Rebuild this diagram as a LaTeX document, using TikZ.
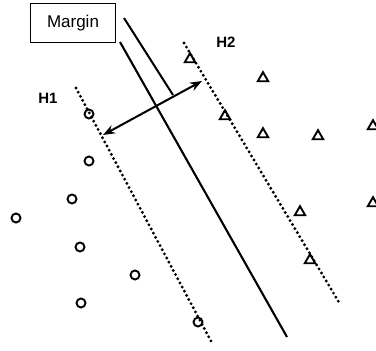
\documentclass[tikz,border=0pt]{standalone}
\usepackage{fontspec}
\setmainfont{Liberation Sans}
\usetikzlibrary{arrows.meta,shapes.geometric}
\tikzset{
  marginbox/.style={draw=black,line width=1.6pt,minimum width=85pt,
                    minimum height=39pt,inner sep=0pt,
                    font=\fontsize{17}{20}\selectfont},
  hlabel/.style={inner sep=0pt,font=\fontsize{15}{18}\selectfont\bfseries},
  classa/.style={circle,draw=black,line width=1.9pt,minimum size=9pt,
                 inner sep=0pt},
  classb/.style={regular polygon,regular polygon sides=3,draw=black,
                 line width=1.9pt,minimum size=12pt,inner sep=0pt,
                 yshift=-1.2pt},
  hyper/.style={line width=3.2pt,line cap=round,
                dash pattern=on 0pt off 4.7pt},
  sepline/.style={line width=2.1pt},
  pointer/.style={line width=2pt},
  margarr/.style={{Stealth[length=12pt,width=9pt]}-{Stealth[length=12pt,width=9pt]},
                  line width=2pt}
}
\begin{document}
\begin{tikzpicture}[x=1pt,y=-1pt]
    \useasboundingbox (0,0) rectangle (376,351);
    % class one
    \node[classa] (o1) at (89,114) {};
    \node[classa] (o2) at (89,161) {};
    \node[classa] (o3) at (72,199) {};
    \node[classa] (o4) at (16,218) {};
    \node[classa] (o5) at (80,247) {};
    \node[classa] (o6) at (135,275) {};
    \node[classa] (o7) at (81,303) {};
    \node[classa] (o8) at (198,322) {};
    % class two
    \node[classb] (t1) at (190,58) {};
    \node[classb] (t2) at (263,77) {};
    \node[classb] (t3) at (225,115) {};
    \node[classb] (t4) at (263,133) {};
    \node[classb] (t5) at (318,135) {};
    \node[classb] (t6) at (373,125) {};
    \node[classb] (t7) at (300,211) {};
    \node[classb] (t8) at (373,202) {};
    \node[classb] (t9) at (310,259) {};

    \coordinate (h1a) at (76,88);
    \coordinate (h1b) at (212,343);
    \coordinate (h2a) at (184,43);
    \coordinate (h2b) at (340,304);
    \draw[hyper] (h1a) -- (h1b);
    \draw[hyper] (h2a) -- (h2b);

    \coordinate (sepa) at (120,42);
    \coordinate (sepb) at (287,337);
    \draw[sepline] (sepa) -- (sepb);

    \coordinate (arra) at (103,135);
    \coordinate (arrb) at (202,81);
    \draw[margarr] (arra) -- (arrb);

    \node[marginbox] (margin) at (73,23) {Margin};
    \coordinate (ptra) at (124,18);
    \coordinate (ptrb) at (173,95);
    \draw[pointer] (ptra) -- (ptrb);

    \node[hlabel] (lh1) at (48,98) {H1};
    \node[hlabel] (lh2) at (226,42) {H2};
  \end{tikzpicture}
\end{document}
